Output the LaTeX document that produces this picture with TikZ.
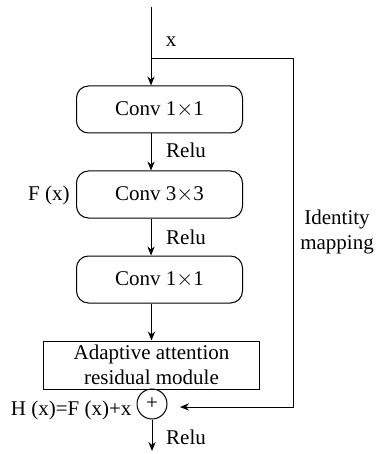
\documentclass[tikz,border=0pt]{standalone}
\usepackage{fontspec}
\setmainfont{Liberation Serif}
\usetikzlibrary{arrows.meta}
\begin{document}
\begin{tikzpicture}[x = 0.5pt, y = -0.5pt, line width = 0.5pt,
        font = \fontsize{10.5}{12.5}\selectfont,
        >= {Stealth[length = 4.5pt, width = 3.6pt]},
        convbox/.style = {draw, rounded corners = 6pt, minimum width = 83pt, minimum height = 23.5pt, inner sep = 0pt},
        lbl/.style = {inner sep = 0pt}]
    \useasboundingbox (0, 0) rectangle (377, 454);
    \coordinate (in) at (151, 7);
    \coordinate (split) at (151, 59);
    \node[lbl] (xl) at (171, 42) {x};
    \node[convbox] (c1) at (159.5, 109.5) {Conv 1$\times$1};
    \node[convbox] (c2) at (159.5, 194.5) {Conv 3$\times$3};
    \node[convbox] (c3) at (159.5, 279.5) {Conv 1$\times$1};
    \node[draw, minimum width = 108pt, minimum height = 24pt, inner sep = 0pt, align = center] (aam) at (151.5, 365) {Adaptive attention\\residual module};
    \node[draw, circle, minimum size = 15pt, inner sep = 0pt] (add) at (152, 404) {+};
    \coordinate (out) at (152, 451);
    \coordinate (idend) at (180, 407);
    \node[lbl] (r1) at (186, 150) {Relu};
    \node[lbl] (r2) at (186, 237) {Relu};
    \node[lbl] (r3) at (186, 437) {Relu};
    \node[lbl, anchor = east] (fx) at (70, 195) {F (x)};
    \node[lbl, anchor = east] (hx) at (132, 410) {H (x)=F (x)+x};
    \node[lbl, align = center] (idm) at (337, 232) {Identity\\mapping};
    % main path
    \draw (in) -- (split);
    \draw[->] (split) -- (c1.north -| split);
    \draw[->] (c1.south -| split) -- (c2.north -| split);
    \draw[->] (c2.south -| split) -- (c3.north -| split);
    \draw[->] (c3.south -| aam) -- (aam);
    \draw (aam) -- (add);
    \draw[->] (add) -- (out);
    % shortcut
    \draw[->] (split) -- (293, 59) |- (idend);
\end{tikzpicture}
\end{document}
